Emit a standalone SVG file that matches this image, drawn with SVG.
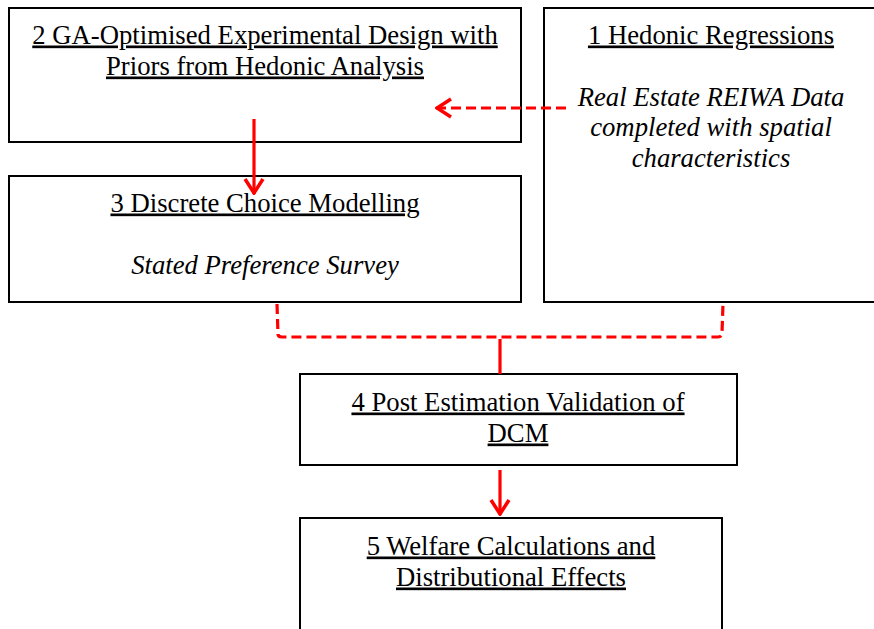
<svg xmlns="http://www.w3.org/2000/svg" width="874" height="629" viewBox="0 0 874 629">
<style>
.box{fill:#fff;stroke:#000;stroke-width:2}
.t{font-family:"Liberation Serif","Times New Roman",serif;font-size:26.7px;fill:#000;text-anchor:middle}
.h{text-decoration:underline}
.i{font-style:italic}
.dash{fill:none;stroke:#f00;stroke-width:3.2;stroke-dasharray:10 5}
.solid{fill:none;stroke:#f00;stroke-width:3.2}
</style>
<defs>
<marker id="ah" viewBox="0 0 18 22" refX="17" refY="11" markerWidth="18" markerHeight="22" markerUnits="userSpaceOnUse" orient="auto">
<path d="M2,2 L16,11 L2,20" fill="none" stroke="#f00" stroke-width="3.5"/>
</marker>
</defs>
<g id="node2">
<rect class="box" x="9" y="8" width="512" height="134"/>
<text class="t h" x="265" y="43.5">2 GA-Optimised Experimental Design with</text>
<text class="t h" x="265" y="74.5">Priors from Hedonic Analysis</text>
</g>
<g id="node1">
<rect class="box" x="544" y="8" width="340" height="294"/>
<text class="t h" x="711" y="43.5">1 Hedonic Regressions</text>
<text class="t i" x="711" y="105.5">Real Estate REIWA Data</text>
<text class="t i" x="711" y="135.5">completed with spatial</text>
<text class="t i" x="711" y="166.5">characteristics</text>
</g>
<g id="node3">
<rect class="box" x="9" y="176" width="512" height="126"/>
<text class="t h" x="265" y="211.5">3 Discrete Choice Modelling</text>
<text class="t i" x="265" y="273.5">Stated Preference Survey</text>
</g>
<g id="node4">
<rect class="box" x="300" y="374" width="437" height="91"/>
<text class="t h" x="518" y="410.5">4 Post Estimation Validation of</text>
<text class="t h" x="518" y="441.5">DCM</text>
</g>
<g id="node5">
<rect class="box" x="300" y="518" width="422" height="130"/>
<text class="t h" x="511" y="554.5">5 Welfare Calculations and</text>
<text class="t h" x="511" y="585.5">Distributional Effects</text>
</g>
<g id="connectors">
<path class="dash" d="M566,108 H436" marker-end="url(#ah)"/>
<path class="solid" d="M254,119 V194" marker-end="url(#ah)"/>
<path class="dash" d="M277,304 L278,334 Q278,337 282,337 H718 Q722,337 722,333 L723,304"/>
<path class="solid" d="M500,339 V374"/>
<path class="solid" d="M500,470 V515" marker-end="url(#ah)"/>
</g>
</svg>
